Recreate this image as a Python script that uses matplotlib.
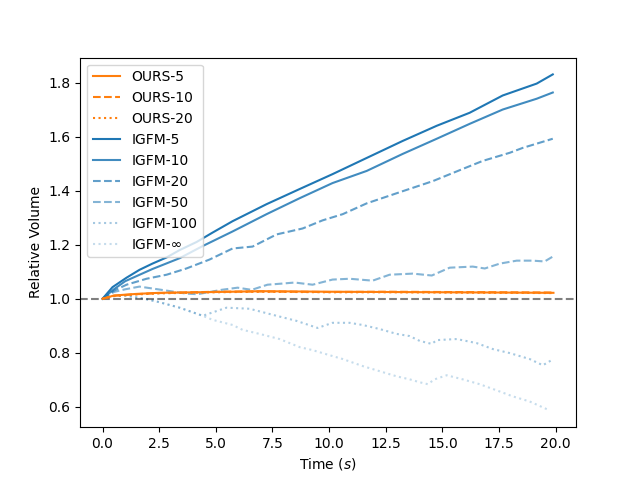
import numpy as np
import matplotlib
matplotlib.use("Agg")
import matplotlib.pyplot as plt

# values
ours5_t = [0, 0.5, 1.5, 2.5, 5, 7, 10, 12.5, 15, 17.5, 19.9]
ours5_v = [1.0, 1.012, 1.018, 1.022, 1.025, 1.028, 1.026, 1.025, 1.024, 1.023, 1.022]
ours10_t = [0, 0.5, 1.5, 2.5, 5, 7, 10, 12.5, 15, 17.5, 19.9]
ours10_v = [1.0, 1.011, 1.017, 1.021, 1.026, 1.027, 1.025, 1.026, 1.025, 1.024, 1.023]
ours20_t = [0, 0.5, 1.5, 2.5, 5, 7, 10, 12.5, 15, 17.5, 19.9]
ours20_v = [1.0, 1.010, 1.016, 1.020, 1.024, 1.026, 1.024, 1.024, 1.023, 1.022, 1.021]

igfm5_t = [0, 0.44, 1.06, 1.63, 2.2, 2.83, 3.4, 4.15, 4.86, 5.74, 7.24, 8.7, 10.15, 11.66,
           13.25, 14.75, 16.2, 17.66, 19.16, 19.87]
igfm5_v = [1.0, 1.043, 1.078, 1.107, 1.13, 1.153, 1.18, 1.21, 1.245, 1.287, 1.35, 1.406,
           1.461, 1.521, 1.584, 1.64, 1.688, 1.752, 1.796, 1.83]
igfm10_t = [0, 0.5, 1.0, 2.2, 3.4, 4.42, 5.74, 7.24, 8.7, 10.15, 11.66, 13.25,
            14.75, 16.2, 17.66, 19.16, 19.87]
igfm10_v = [1.0, 1.035, 1.065, 1.11, 1.15, 1.195, 1.249, 1.313, 1.372, 1.428, 1.473,
            1.536, 1.592, 1.647, 1.70, 1.74, 1.763]
igfm20_t = [0, 0.5, 1.06, 1.94, 2.83, 3.7, 4.72, 5.74, 6.62, 7.68, 8.83, 9.71, 10.6, 11.66,
            13.25, 14.57, 15.89, 16.78, 17.97, 18.54, 19.87]
igfm20_v = [1.0, 1.03, 1.052, 1.074, 1.089, 1.112, 1.145, 1.186, 1.193, 1.238, 1.26, 1.29,
            1.313, 1.353, 1.398, 1.435, 1.48, 1.51, 1.54, 1.558, 1.592]
igfm50_t = [0, 0.5, 1.0, 1.63, 2.6, 3.7, 4.2, 5.25, 5.96, 6.58, 7.28, 7.9, 8.48, 9.27,
            10.15, 10.9, 11.92, 12.67, 13.69, 14.53, 15.32, 16.34, 16.87, 17.53, 18.28,
            18.98, 19.51, 19.87]
igfm50_v = [1.0, 1.025, 1.035, 1.045, 1.033, 1.019, 1.017, 1.033, 1.041, 1.033, 1.052,
            1.056, 1.06, 1.052, 1.071, 1.074, 1.067, 1.089, 1.093, 1.086, 1.115, 1.119,
            1.112, 1.13, 1.141, 1.141, 1.138, 1.156]
igfm100_t = [0, 0.5, 1.0, 1.85, 2.43, 3.4, 4.42, 5.47, 6.49, 7.68, 8.57, 9.49, 10.15, 10.9,
             11.48, 12.23, 12.98, 13.55, 14.0, 14.53, 14.75, 15.63, 16.51, 17.22, 17.97,
             18.85, 19.43, 19.82]
igfm100_v = [1.0, 1.01, 1.012, 1.0, 0.989, 0.967, 0.937, 0.967, 0.963, 0.937, 0.918, 0.892,
             0.911, 0.911, 0.903, 0.888, 0.870, 0.862, 0.844, 0.833, 0.847, 0.851, 0.836,
             0.814, 0.799, 0.777, 0.754, 0.773]
igfminf_t = [0, 0.5, 1.0, 1.85, 2.43, 3.4, 4.42, 4.86, 5.74, 6.18, 6.93, 7.81, 8.7, 9.27,
             10.15, 10.6, 11.48, 12.23, 12.98, 13.55, 14.0, 14.35, 14.66, 15.19, 15.89,
             16.64, 17.4, 18.1, 18.85, 19.73]
igfminf_v = [1.0, 1.01, 1.012, 1.0, 0.989, 0.967, 0.937, 0.922, 0.903, 0.885, 0.870, 0.851,
             0.821, 0.810, 0.788, 0.777, 0.751, 0.732, 0.713, 0.702, 0.691, 0.684, 0.702,
             0.717, 0.702, 0.684, 0.661, 0.639, 0.620, 0.587]

fig, ax = plt.subplots(figsize=(6.4, 4.8), dpi=100)

ax.plot(ours5_t, ours5_v, color='C1', linestyle='-', label='OURS-5', zorder=3)
ax.plot(ours10_t, ours10_v, color='C1', linestyle='--', label='OURS-10', zorder=3)
ax.plot(ours20_t, ours20_v, color='C1', linestyle=':', label='OURS-20', zorder=3)

ax.plot(igfm5_t, igfm5_v, color='C0', linestyle='-', alpha=1.0, label='IGFM-5')
ax.plot(igfm10_t, igfm10_v, color='C0', linestyle='-', alpha=0.85, label='IGFM-10')
ax.plot(igfm20_t, igfm20_v, color='C0', linestyle='--', alpha=0.7, label='IGFM-20')
ax.plot(igfm50_t, igfm50_v, color='C0', linestyle='--', alpha=0.55, label='IGFM-50')
ax.plot(igfm100_t, igfm100_v, color='C0', linestyle=':', alpha=0.4, label='IGFM-100')
ax.plot(igfminf_t, igfminf_v, color='C0', linestyle=':', alpha=0.25, label='IGFM-∞')

ax.axhline(1.0, color='k', linestyle='--', alpha=0.5)

ax.set_xlabel("Time ($s$)")
ax.set_ylabel("Relative Volume")
ax.legend(loc='upper left')

plt.savefig("out.png", dpi=100)
